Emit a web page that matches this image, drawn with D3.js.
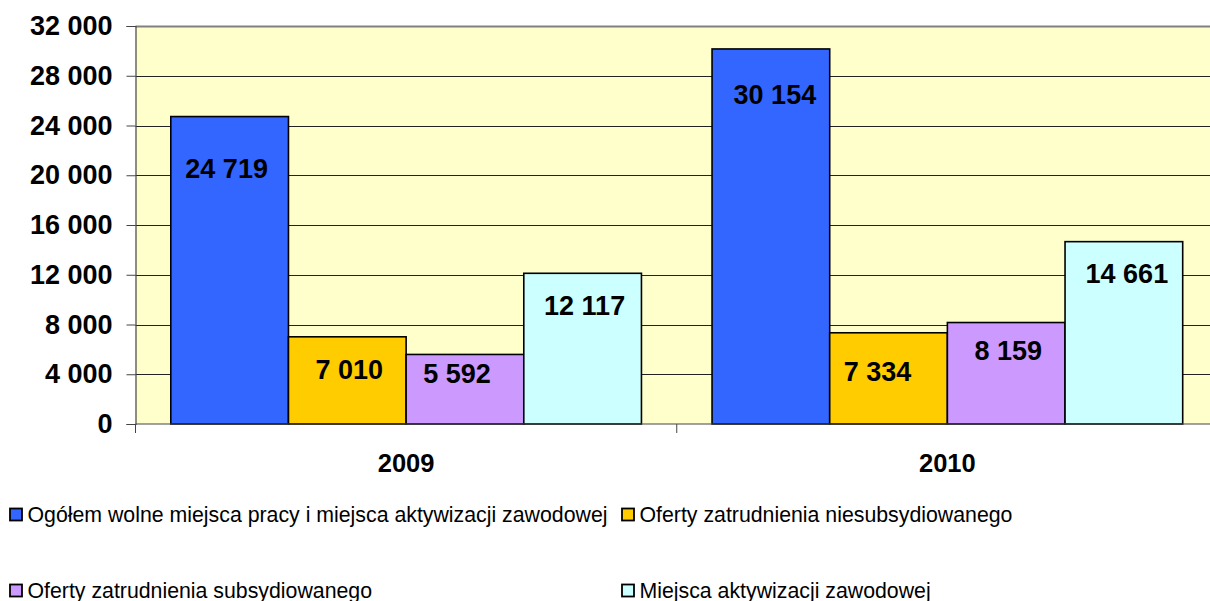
<!DOCTYPE html>
<html>
<head>
<meta charset="utf-8">
<script src="https://cdn.jsdelivr.net/npm/d3@7"></script>
<style>
  html, body { margin: 0; padding: 0; background: #fff; }
  svg { display: block; font-family: "Liberation Sans", Arial, sans-serif; }
</style>
</head>
<body>
<svg id="chart" width="1210" height="601"></svg>
<script>
// dane
const years = ["2009", "2010"];
const series = [
  "Ogółem wolne miejsca pracy i miejsca aktywizacji zawodowej",
  "Oferty zatrudnienia niesubsydiowanego",
  "Oferty zatrudnienia subsydiowanego",
  "Miejsca aktywizacji zawodowej"
];
const colors = ["#3366FF", "#FFCC00", "#CC99FF", "#CCFFFF"];
const values2009 = [24719, 7010, 5592, 12117];
const values2010 = [30154, 7334, 8159, 14661];
const yTicks = [0, 4000, 8000, 12000, 16000, 20000, 24000, 28000, 32000];

// ręcznie przesunięte etykiety (jak w oryginale)
const labelNudge = [
  [[-3, 52], [2, 32], [-8, 19], [2, 32]],
  [[4, 45], [-11, 38], [2, 28], [3, 32]]
];

const margin = { left: 135.5, top: 26, right: 1218, bottom: 424 };

const svg = d3.select("#chart");
const fmt = d3.formatLocale({ decimal: ",", thousands: " ", grouping: [3], currency: ["", ""] }).format(",d");

const x0 = d3.scaleBand().domain(years).range([margin.left, margin.right]).padding(0);
const x1 = d3.scaleBand().domain(d3.range(series.length)).range([0, x0.bandwidth()]).paddingInner(0).paddingOuter(0.3);
const y = d3.scaleLinear().domain([0, 32000]).range([margin.bottom, margin.top]);

// tło
svg.append("rect")
  .attr("x", margin.left).attr("y", margin.top)
  .attr("width", margin.right - margin.left).attr("height", margin.bottom - margin.top)
  .attr("fill", "#FFFFCC");

// siatka
svg.append("g")
  .selectAll("line")
  .data(yTicks.filter(d => d > 0))
  .join("line")
  .attr("x1", margin.left).attr("x2", margin.right)
  .attr("y1", d => Math.round(y(d)) + 0.5).attr("y2", d => Math.round(y(d)) + 0.5)
  .attr("stroke", d => d === 32000 ? "#808080" : "#222")
  .attr("stroke-width", d => d === 32000 ? 2 : 1);

// oś Y
const yAxis = svg.append("g")
  .attr("transform", `translate(${margin.left},0)`)
  .call(d3.axisLeft(y).tickValues(yTicks).tickFormat(fmt).tickSize(9).tickPadding(14));
yAxis.select(".domain").attr("stroke", "#444").attr("stroke-width", 1.2);
yAxis.selectAll(".tick line").attr("stroke", "#444");
yAxis.selectAll("text")
  .attr("font-size", 27).attr("font-weight", "bold").attr("fill", "#000")
  .attr("font-family", "Liberation Sans, Arial, sans-serif");

// słupki
const data = [values2009, values2010];
const groups = svg.append("g")
  .selectAll("g")
  .data(years)
  .join("g")
  .attr("transform", d => `translate(${x0(d)},0)`);

groups.selectAll("rect")
  .data((d, i) => data[i].map((v, j) => ({ v, j })))
  .join("rect")
  .attr("x", d => x1(d.j))
  .attr("y", d => y(d.v))
  .attr("width", x1.bandwidth())
  .attr("height", d => y(0) - y(d.v))
  .attr("fill", d => colors[d.j])
  .attr("stroke", "#000")
  .attr("stroke-width", 1.6);

groups.selectAll("text")
  .data((d, i) => data[i].map((v, j) => ({ v, j, n: labelNudge[i][j] })))
  .join("text")
  .attr("x", d => x1(d.j) + x1.bandwidth() / 2 + d.n[0])
  .attr("y", d => y(d.v) + d.n[1])
  .attr("dy", "0.36em")
  .attr("text-anchor", "middle")
  .attr("font-size", 27)
  .attr("font-weight", "bold")
  .text(d => fmt(d.v));

// oś X
const xAxis = svg.append("g");
xAxis.append("line")
  .attr("x1", margin.left).attr("x2", margin.right)
  .attr("y1", y(0)).attr("y2", y(0))
  .attr("stroke", "#444").attr("stroke-width", 1.2);
xAxis.selectAll("line.tick")
  .data([margin.left, ...years.map(d => x0(d) + x0.bandwidth())])
  .join("line")
  .attr("class", "tick")
  .attr("x1", d => d).attr("x2", d => d)
  .attr("y1", y(0)).attr("y2", y(0) + 9)
  .attr("stroke", "#444");
xAxis.selectAll("text")
  .data(years)
  .join("text")
  .attr("x", d => x0(d) + x0.bandwidth() / 2)
  .attr("y", 471.5)
  .attr("text-anchor", "middle")
  .attr("font-size", 25.5)
  .attr("font-weight", "bold")
  .text(d => d);

// legenda (układ jak w Excelu: dwa wiersze)
const legendPos = [[9, 508], [621, 508], [9, 584], [621, 584]];
const legend = svg.append("g")
  .selectAll("g")
  .data(series)
  .join("g")
  .attr("transform", (d, i) => `translate(${legendPos[i][0]},${legendPos[i][1]})`);
legend.append("rect")
  .attr("x", 1).attr("y", 0.5)
  .attr("width", 12).attr("height", 12)
  .attr("fill", (d, i) => colors[i])
  .attr("stroke", "#000").attr("stroke-width", 1.8);
legend.append("text")
  .attr("x", 18.5).attr("y", 14)
  .attr("font-size", 21.3)
  .text(d => d);
</script>
</body>
</html>
